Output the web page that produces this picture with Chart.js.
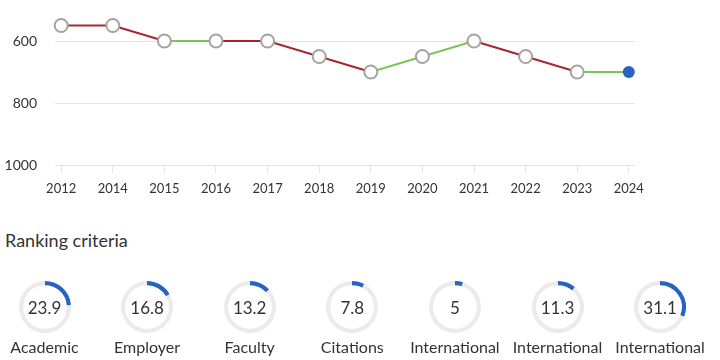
<!DOCTYPE html>
<html>
<head>
<meta charset="utf-8">
<script src="https://cdn.jsdelivr.net/npm/chart.js@4.4.1/dist/chart.umd.min.js"></script>
<style>
  html, body { margin: 0; padding: 0; background: #fff; }
  body { width: 720px; height: 360px; position: relative; overflow: hidden; font-family: Lato, "Open Sans", sans-serif; color: #333; }
  #rankChart { position: absolute; left: 0; top: 0; }
  #title { position: absolute; left: 5px; top: 229px; font-size: 18px; line-height: 22px; color: #333; white-space: nowrap; }
  .gauge { position: absolute; width: 100px; top: 276px; }
  .gauge canvas { position: absolute; left: 24px; top: 5px; }
  .gauge .val { position: absolute; left: 0; width: 100px; top: 22px; text-align: center; font-size: 17px; line-height: 20px; color: #333; }
  .gauge .lbl { position: absolute; left: -10px; width: 120px; top: 61px; text-align: center; font-size: 16px; line-height: 20px; color: #333; white-space: nowrap; }
</style>
</head>
<body>
<canvas id="rankChart" width="720" height="200"></canvas>
<div id="title">Ranking criteria</div>
<div id="gauges"></div>
<script>
// ---- data ----
const years = ['2012', '2014', '2015', '2016', '2017', '2018', '2019', '2020', '2021', '2022', '2023', '2024'];
const ranks = [550, 550, 600, 600, 600, 650, 700, 650, 600, 650, 700, 700];
const segmentTrend = ['down', 'down', 'up', 'down', 'down', 'down', 'up', 'up', 'down', 'down', 'up'];
const yTickValues = [600, 800, 1000];
const criteriaNames = ['Academic', 'Employer', 'Faculty', 'Citations', 'International', 'International', 'International'];
const criteriaValues = [23.9, 16.8, 13.2, 7.8, 5, 11.3, 31.1];
const criteriaMax = 100;

// ---- styles ----
const RED = '#a8262c';
const GREEN = '#7cc456';
const BLUE = '#2862c2';
const GRID = '#e4e4e4';
const TEXT = '#333333';
const FONT = 'Lato, "Open Sans", sans-serif';

const last = ranks.length - 1;

new Chart(document.getElementById('rankChart'), {
  type: 'line',
  data: {
    datasets: [{
      data: ranks.map((r, i) => ({ x: i, y: r })),
      borderWidth: 2,
      borderColor: RED,
      segment: {
        borderColor: ctx => segmentTrend[ctx.p0DataIndex] === 'up' ? GREEN : RED
      },
      pointRadius: ctx => ctx.dataIndex === last ? 6 : 6.5,
      pointHoverRadius: ctx => ctx.dataIndex === last ? 6 : 6.5,
      pointBorderWidth: ctx => ctx.dataIndex === last ? 0 : 2,
      pointBackgroundColor: ctx => ctx.dataIndex === last ? BLUE : '#ffffff',
      pointBorderColor: ctx => ctx.dataIndex === last ? BLUE : '#a3a3a3',
      tension: 0,
      clip: false
    }]
  },
  options: {
    responsive: false,
    animation: false,
    events: [],
    layout: { padding: { top: 10, right: 85, left: 0, bottom: 0 } },
    plugins: { legend: { display: false }, tooltip: { enabled: false } },
    scales: {
      x: {
        type: 'linear',
        min: -0.12,
        max: years.length - 1 + 0.12,
        afterBuildTicks: s => { s.ticks = years.map((_, i) => ({ value: i })); },
        afterFit: s => { s.height = 35; s.paddingLeft = 0; s.paddingRight = 0; },
        grid: { drawOnChartArea: false, drawTicks: true, tickLength: 8, color: GRID },
        border: { display: false },
        ticks: {
          autoSkip: false, maxRotation: 0, padding: 8,
          color: TEXT, font: { family: FONT, size: 13 },
          callback: v => years[v]
        }
      },
      y: {
        reverse: true,
        min: 500,
        max: 1000,
        afterBuildTicks: s => { s.ticks = yTickValues.map(v => ({ value: v })); },
        afterFit: s => { s.width = 55; s.paddingTop = 0; s.paddingBottom = 0; },
        grid: { color: GRID, drawTicks: false },
        border: { display: false },
        ticks: { padding: 18, color: TEXT, font: { family: FONT, size: 14 }, callback: v => String(v) }
      }
    }
  }
});

// ---- gauges ----
const holder = document.getElementById('gauges');
criteriaValues.forEach((v, i) => {
  const cx = 44.5 + 102.6 * i;
  const g = document.createElement('div');
  g.className = 'gauge';
  g.style.left = (cx - 50) + 'px';
  const c = document.createElement('canvas');
  c.width = 52; c.height = 52;
  g.appendChild(c);
  const val = document.createElement('div');
  val.className = 'val';
  val.textContent = String(v);
  g.appendChild(val);
  const lbl = document.createElement('div');
  lbl.className = 'lbl';
  lbl.textContent = criteriaNames[i];
  g.appendChild(lbl);
  holder.appendChild(g);
  new Chart(c, {
    type: 'doughnut',
    data: {
      datasets: [{
        data: [v, criteriaMax - v],
        backgroundColor: [BLUE, '#ebebeb'],
        borderWidth: 0
      }]
    },
    options: {
      responsive: false,
      animation: false,
      events: [],
      cutout: '84%',
      layout: { padding: 0 },
      plugins: { legend: { display: false }, tooltip: { enabled: false } }
    }
  });
});
</script>
</body>
</html>
